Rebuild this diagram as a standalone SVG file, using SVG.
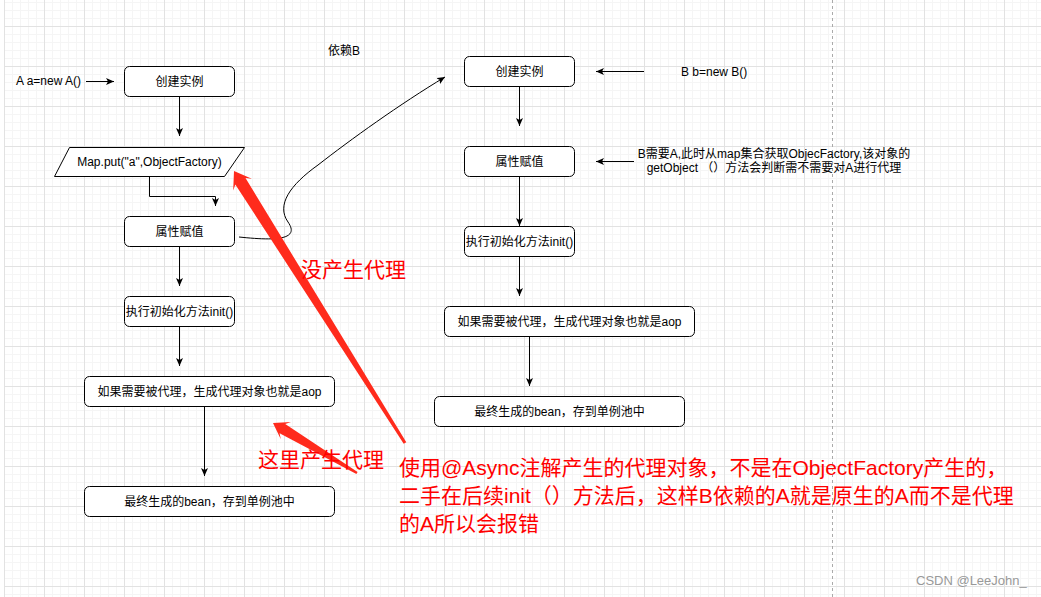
<svg xmlns="http://www.w3.org/2000/svg" width="1041" height="597" viewBox="0 0 1041 597">
<style>
text{font-family:"Liberation Sans","Noto Sans CJK SC",sans-serif;fill:#000}
.t12{font-size:12px}
.c{text-anchor:middle;dominant-baseline:central}
.box{fill:#fff;stroke:#000;stroke-width:1}
.con{fill:none;stroke:#000;stroke-width:1}
.red{fill:#ff0000;font-size:21px}
.rarrow{fill:#ff2b1c;stroke:none}
</style>
<defs>
<pattern id="grid" width="40" height="40" patternUnits="userSpaceOnUse" x="4" y="26">
<rect width="40" height="40" fill="#fff"/>
<path d="M8.5 0V40M16.5 0V40M24.5 0V40M32.5 0V40M0 8.5H40M0 16.5H40M0 24.5H40M0 32.5H40" stroke="#f5f5f5" stroke-width="1"/>
<path d="M0.5 0V40M0 0.5H40" stroke="#e2e2e2" stroke-width="1"/>
</pattern>
<marker id="arr" viewBox="0 0 8 7" markerWidth="8" markerHeight="7" refX="8" refY="3.5" orient="auto" markerUnits="userSpaceOnUse">
<path d="M0,0 L8,3.5 L0,7 L2,3.5 Z" fill="#000"/>
</marker>
</defs>
<rect width="1041" height="597" fill="#fff"/>
<rect x="4" y="0" width="1037" height="597" fill="url(#grid)"/>
<line x1="832.5" y1="0" x2="832.5" y2="597" stroke="#aaa" stroke-dasharray="3 3"/>

<g id="connectors">
<path class="con" d="M86 81.5H114" marker-end="url(#arr)"/>
<path class="con" d="M179.5 96V136" marker-end="url(#arr)"/>
<path class="con" d="M149.5 176V196.5H215.5V206" marker-end="url(#arr)"/>
<path class="con" d="M179.5 246V286" marker-end="url(#arr)"/>
<path class="con" d="M179.5 326V366" marker-end="url(#arr)"/>
<path class="con" d="M204.5 406V476" marker-end="url(#arr)"/>
<path class="con" d="M644 71.5H596" marker-end="url(#arr)"/>
<path class="con" d="M519.5 86V126" marker-end="url(#arr)"/>
<path class="con" d="M634 161.5H596" marker-end="url(#arr)"/>
<path class="con" d="M519.5 176V226" marker-end="url(#arr)"/>
<path class="con" d="M519.5 256V296" marker-end="url(#arr)"/>
<path class="con" d="M529.5 337V386" marker-end="url(#arr)"/>
<path class="con" d="M239 237C268 240 302 242 288 222C276 205 290 185 318 165C350 140 400 104 445 77" marker-end="url(#arr)"/>
</g>

<text class="t12" x="16" y="81" style="dominant-baseline:central">A a=new A()</text>
<text class="t12" x="328" y="51" style="dominant-baseline:central">依赖B</text>
<text class="t12" x="681" y="72" style="dominant-baseline:central">B b=new B()</text>
<text class="t12 c" x="774" y="154">B需要A,此时从map集合获取ObjecFactory,该对象的</text>
<text class="t12 c" x="774" y="168">getObject （）方法会判断需不需要对A进行代理</text>

<g id="a-create"><rect class="box" x="124.5" y="66.5" width="110" height="30" rx="5"/><text class="t12 c" x="179.5" y="81.5">创建实例</text></g>
<g id="a-map"><polygon class="box" points="69.5,147.5 244.5,147.5 224.5,176.5 54.5,176.5"/><text class="t12 c" x="149.5" y="162">Map.put("a",ObjectFactory)</text></g>
<g id="a-prop"><rect class="box" x="124.5" y="216.5" width="110" height="30" rx="5"/><text class="t12 c" x="179.5" y="231.5">属性赋值</text></g>
<g id="a-init"><rect class="box" x="124.5" y="296.5" width="110" height="30" rx="5"/><text class="t12 c" x="179.5" y="311.5">执行初始化方法init()</text></g>
<g id="a-proxy"><rect class="box" x="84.5" y="376.5" width="250" height="30" rx="5"/><text class="t12 c" x="209.5" y="391.5">如果需要被代理，生成代理对象也就是aop</text></g>
<g id="a-final"><rect class="box" x="84.5" y="486.5" width="250" height="30" rx="5"/><text class="t12 c" x="209.5" y="501.5">最终生成的bean，存到单例池中</text></g>

<g id="b-create"><rect class="box" x="464.5" y="56.5" width="110" height="30" rx="5"/><text class="t12 c" x="519.5" y="71.5">创建实例</text></g>
<g id="b-prop"><rect class="box" x="464.5" y="146.5" width="110" height="30" rx="5"/><text class="t12 c" x="519.5" y="161.5">属性赋值</text></g>
<g id="b-init"><rect class="box" x="464.5" y="226.5" width="110" height="30" rx="5"/><text class="t12 c" x="519.5" y="241.5">执行初始化方法init()</text></g>
<g id="b-proxy"><rect class="box" x="444.5" y="306.5" width="250" height="30" rx="5"/><text class="t12 c" x="569.5" y="321.5">如果需要被代理，生成代理对象也就是aop</text></g>
<g id="b-final"><rect class="box" x="434.5" y="396.5" width="250" height="30" rx="5"/><text class="t12 c" x="559.5" y="411.5">最终生成的bean，存到单例池中</text></g>

<g id="red-arrows">
<polygon class="rarrow" points="234,171 251.8,178.7 245.5,178 406.3,442.2 403.7,443.8 235.3,184.4 233.2,190.4"/>
<polygon class="rarrow" points="273,423 291,422.1 285.2,423.9 357.6,472 356.4,474 279.6,433.3 280.8,439.3"/>
</g>

<text class="red" x="301" y="277">没产生代理</text>
<text class="red" x="258" y="467">这里产生代理</text>
<text class="red" x="399" y="475">使用@Async注解产生的代理对象，不是在ObjectFactory产生的，</text>
<text class="red" x="399" y="503">二手在后续init（）方法后，这样B依赖的A就是原生的A而不是代理</text>
<text class="red" x="399" y="531">的A所以会报错</text>

<text x="916" y="585" style="font-size:13px;fill:#999">CSDN @LeeJohn_</text>
</svg>
